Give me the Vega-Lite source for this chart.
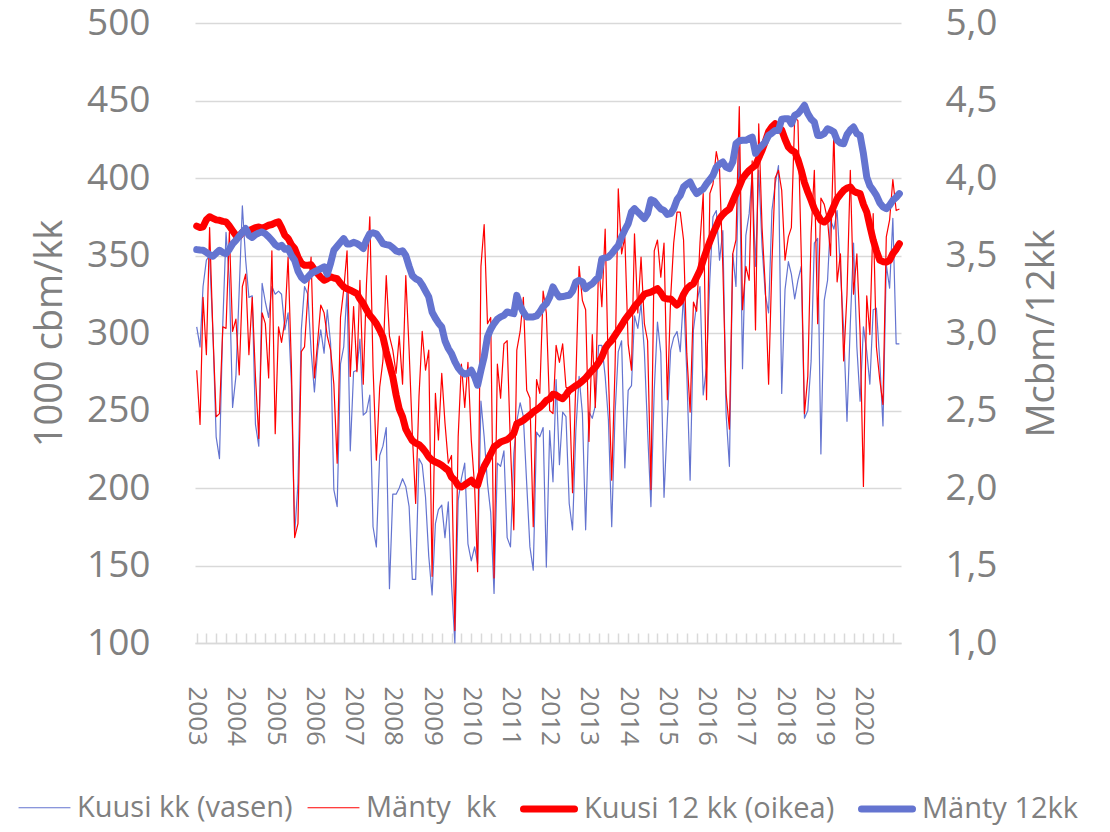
{
  "$schema": "https://vega.github.io/schema/vega-lite/v6.json",
  "width": 706,
  "height": 620,
  "autosize": {"type": "none"},
  "padding": {"left": 195, "top": 23, "right": 209, "bottom": 189},
  "background": "white",
  "config": {"view": {"stroke": null}, "font": "Open Sans"},
  "data": {"values": [
    {"d":"2003-01","K":304,"M":276,"K12":3.69,"M12":3.538},
    {"d":"2003-02","K":291,"M":241,"K12":3.68,"M12":3.535},
    {"d":"2003-03","K":330,"M":323,"K12":3.685,"M12":3.534},
    {"d":"2003-04","K":347,"M":286,"K12":3.73,"M12":3.52},
    {"d":"2003-05","K":350,"M":368,"K12":3.75,"M12":3.505},
    {"d":"2003-06","K":300,"M":300,"K12":3.74,"M12":3.495},
    {"d":"2003-07","K":233,"M":246,"K12":3.73,"M12":3.515},
    {"d":"2003-08","K":219,"M":248,"K12":3.727,"M12":3.534},
    {"d":"2003-09","K":306,"M":304,"K12":3.72,"M12":3.52},
    {"d":"2003-10","K":365,"M":303,"K12":3.717,"M12":3.512},
    {"d":"2003-11","K":334,"M":365,"K12":3.69,"M12":3.54},
    {"d":"2003-12","K":252,"M":301,"K12":3.66,"M12":3.575},
    {"d":"2004-01","K":272,"M":309,"K12":3.63,"M12":3.598},
    {"d":"2004-02","K":328,"M":273,"K12":3.624,"M12":3.625},
    {"d":"2004-03","K":382,"M":330,"K12":3.65,"M12":3.65},
    {"d":"2004-04","K":347,"M":338,"K12":3.663,"M12":3.674},
    {"d":"2004-05","K":323,"M":286,"K12":3.66,"M12":3.63},
    {"d":"2004-06","K":324,"M":323,"K12":3.67,"M12":3.616},
    {"d":"2004-07","K":241,"M":272,"K12":3.68,"M12":3.635},
    {"d":"2004-08","K":227,"M":232,"K12":3.684,"M12":3.645},
    {"d":"2004-09","K":332,"M":313,"K12":3.675,"M12":3.652},
    {"d":"2004-10","K":320,"M":306,"K12":3.685,"M12":3.64},
    {"d":"2004-11","K":310,"M":271,"K12":3.695,"M12":3.62},
    {"d":"2004-12","K":330,"M":353,"K12":3.70,"M12":3.598},
    {"d":"2005-01","K":325,"M":235,"K12":3.71,"M12":3.57},
    {"d":"2005-02","K":327,"M":304,"K12":3.717,"M12":3.555},
    {"d":"2005-03","K":325,"M":294,"K12":3.68,"M12":3.566},
    {"d":"2005-04","K":302,"M":308,"K12":3.63,"M12":3.54},
    {"d":"2005-05","K":313,"M":349,"K12":3.61,"M12":3.545},
    {"d":"2005-06","K":267,"M":278,"K12":3.57,"M12":3.50},
    {"d":"2005-07","K":170,"M":168,"K12":3.545,"M12":3.469},
    {"d":"2005-08","K":203,"M":177,"K12":3.49,"M12":3.40},
    {"d":"2005-09","K":302,"M":288,"K12":3.45,"M12":3.36},
    {"d":"2005-10","K":330,"M":291,"K12":3.437,"M12":3.34},
    {"d":"2005-11","K":325,"M":325,"K12":3.437,"M12":3.36},
    {"d":"2005-12","K":289,"M":349,"K12":3.44,"M12":3.383},
    {"d":"2006-01","K":262,"M":271,"K12":3.41,"M12":3.395},
    {"d":"2006-02","K":289,"M":295,"K12":3.383,"M12":3.405},
    {"d":"2006-03","K":302,"M":318,"K12":3.36,"M12":3.415},
    {"d":"2006-04","K":287,"M":313,"K12":3.34,"M12":3.426},
    {"d":"2006-05","K":315,"M":298,"K12":3.35,"M12":3.38},
    {"d":"2006-06","K":293,"M":289,"K12":3.362,"M12":3.45},
    {"d":"2006-07","K":199,"M":267,"K12":3.355,"M12":3.534},
    {"d":"2006-08","K":188,"M":216,"K12":3.35,"M12":3.56},
    {"d":"2006-09","K":280,"M":310,"K12":3.32,"M12":3.585},
    {"d":"2006-10","K":291,"M":328,"K12":3.297,"M12":3.609},
    {"d":"2006-11","K":328,"M":353,"K12":3.285,"M12":3.575},
    {"d":"2006-12","K":224,"M":272,"K12":3.276,"M12":3.575},
    {"d":"2007-01","K":275,"M":317,"K12":3.265,"M12":3.585},
    {"d":"2007-02","K":276,"M":275,"K12":3.254,"M12":3.577},
    {"d":"2007-03","K":296,"M":334,"K12":3.22,"M12":3.565},
    {"d":"2007-04","K":247,"M":267,"K12":3.19,"M12":3.545},
    {"d":"2007-05","K":249,"M":332,"K12":3.15,"M12":3.60},
    {"d":"2007-06","K":260,"M":375,"K12":3.114,"M12":3.641},
    {"d":"2007-07","K":175,"M":278,"K12":3.09,"M12":3.646},
    {"d":"2007-08","K":162,"M":218,"K12":3.061,"M12":3.64},
    {"d":"2007-09","K":221,"M":265,"K12":3.02,"M12":3.61},
    {"d":"2007-10","K":227,"M":282,"K12":2.975,"M12":3.577},
    {"d":"2007-11","K":239,"M":337,"K12":2.88,"M12":3.57},
    {"d":"2007-12","K":135,"M":298,"K12":2.80,"M12":3.566},
    {"d":"2008-01","K":196,"M":289,"K12":2.717,"M12":3.55},
    {"d":"2008-02","K":196,"M":274,"K12":2.60,"M12":3.53},
    {"d":"2008-03","K":200,"M":298,"K12":2.51,"M12":3.523},
    {"d":"2008-04","K":206,"M":267,"K12":2.459,"M12":3.53},
    {"d":"2008-05","K":201,"M":337,"K12":2.38,"M12":3.50},
    {"d":"2008-06","K":188,"M":289,"K12":2.34,"M12":3.43},
    {"d":"2008-07","K":141,"M":235,"K12":2.305,"M12":3.37},
    {"d":"2008-08","K":141,"M":190,"K12":2.29,"M12":3.35},
    {"d":"2008-09","K":219,"M":259,"K12":2.28,"M12":3.34},
    {"d":"2008-10","K":215,"M":301,"K12":2.26,"M12":3.31},
    {"d":"2008-11","K":194,"M":276,"K12":2.233,"M12":3.27},
    {"d":"2008-12","K":156,"M":289,"K12":2.20,"M12":3.233},
    {"d":"2009-01","K":131,"M":143,"K12":2.18,"M12":3.135},
    {"d":"2009-02","K":177,"M":261,"K12":2.168,"M12":3.095},
    {"d":"2009-03","K":186,"M":231,"K12":2.16,"M12":3.065},
    {"d":"2009-04","K":189,"M":274,"K12":2.147,"M12":3.039},
    {"d":"2009-05","K":168,"M":242,"K12":2.13,"M12":2.95},
    {"d":"2009-06","K":191,"M":216,"K12":2.114,"M12":2.90},
    {"d":"2009-07","K":138,"M":221,"K12":2.07,"M12":2.867},
    {"d":"2009-08","K":100,"M":108,"K12":2.05,"M12":2.815},
    {"d":"2009-09","K":192,"M":233,"K12":2.015,"M12":2.775},
    {"d":"2009-10","K":206,"M":280,"K12":2.007,"M12":2.749},
    {"d":"2009-11","K":216,"M":252,"K12":2.02,"M12":2.735},
    {"d":"2009-12","K":164,"M":281,"K12":2.035,"M12":2.74},
    {"d":"2010-01","K":153,"M":231,"K12":2.05,"M12":2.76},
    {"d":"2010-02","K":162,"M":201,"K12":2.025,"M12":2.717},
    {"d":"2010-03","K":151,"M":146,"K12":2.018,"M12":2.663},
    {"d":"2010-04","K":256,"M":343,"K12":2.09,"M12":2.76},
    {"d":"2010-05","K":233,"M":370,"K12":2.14,"M12":2.846},
    {"d":"2010-06","K":203,"M":306,"K12":2.179,"M12":2.975},
    {"d":"2010-07","K":184,"M":310,"K12":2.22,"M12":3.025},
    {"d":"2010-08","K":132,"M":142,"K12":2.265,"M12":3.061},
    {"d":"2010-09","K":216,"M":280,"K12":2.28,"M12":3.09},
    {"d":"2010-10","K":214,"M":258,"K12":2.297,"M12":3.104},
    {"d":"2010-11","K":224,"M":293,"K12":2.305,"M12":3.114},
    {"d":"2010-12","K":168,"M":295,"K12":2.312,"M12":3.136},
    {"d":"2011-01","K":162,"M":227,"K12":2.33,"M12":3.13},
    {"d":"2011-02","K":222,"M":173,"K12":2.351,"M12":3.125},
    {"d":"2011-03","K":243,"M":289,"K12":2.415,"M12":3.243},
    {"d":"2011-04","K":255,"M":301,"K12":2.425,"M12":3.175},
    {"d":"2011-05","K":246,"M":323,"K12":2.437,"M12":3.135},
    {"d":"2011-06","K":203,"M":263,"K12":2.455,"M12":3.104},
    {"d":"2011-07","K":162,"M":258,"K12":2.47,"M12":3.104},
    {"d":"2011-08","K":147,"M":175,"K12":2.491,"M12":3.104},
    {"d":"2011-09","K":236,"M":270,"K12":2.505,"M12":3.11},
    {"d":"2011-10","K":233,"M":261,"K12":2.52,"M12":3.135},
    {"d":"2011-11","K":239,"M":327,"K12":2.54,"M12":3.17},
    {"d":"2011-12","K":149,"M":313,"K12":2.565,"M12":3.19},
    {"d":"2012-01","K":237,"M":250,"K12":2.575,"M12":3.232},
    {"d":"2012-02","K":204,"M":248,"K12":2.605,"M12":3.297},
    {"d":"2012-03","K":270,"M":292,"K12":2.60,"M12":3.26},
    {"d":"2012-04","K":215,"M":281,"K12":2.585,"M12":3.232},
    {"d":"2012-05","K":249,"M":293,"K12":2.576,"M12":3.235},
    {"d":"2012-06","K":246,"M":265,"K12":2.60,"M12":3.24},
    {"d":"2012-07","K":190,"M":264,"K12":2.63,"M12":3.243},
    {"d":"2012-08","K":173,"M":197,"K12":2.645,"M12":3.27},
    {"d":"2012-09","K":237,"M":270,"K12":2.66,"M12":3.329},
    {"d":"2012-10","K":272,"M":343,"K12":2.673,"M12":3.34},
    {"d":"2012-11","K":248,"M":321,"K12":2.69,"M12":3.33},
    {"d":"2012-12","K":173,"M":315,"K12":2.71,"M12":3.286},
    {"d":"2013-01","K":249,"M":230,"K12":2.735,"M12":3.305},
    {"d":"2013-02","K":245,"M":299,"K12":2.76,"M12":3.318},
    {"d":"2013-03","K":253,"M":252,"K12":2.78,"M12":3.34},
    {"d":"2013-04","K":292,"M":347,"K12":2.81,"M12":3.361},
    {"d":"2013-05","K":292,"M":317,"K12":2.845,"M12":3.479},
    {"d":"2013-06","K":272,"M":367,"K12":2.90,"M12":3.485},
    {"d":"2013-07","K":244,"M":274,"K12":2.93,"M12":3.49},
    {"d":"2013-08","K":175,"M":205,"K12":2.953,"M12":3.512},
    {"d":"2013-09","K":248,"M":278,"K12":2.985,"M12":3.54},
    {"d":"2013-10","K":288,"M":393,"K12":3.017,"M12":3.565},
    {"d":"2013-11","K":295,"M":351,"K12":3.05,"M12":3.62},
    {"d":"2013-12","K":213,"M":362,"K12":3.085,"M12":3.665},
    {"d":"2014-01","K":263,"M":293,"K12":3.115,"M12":3.705},
    {"d":"2014-02","K":266,"M":276,"K12":3.14,"M12":3.781},
    {"d":"2014-03","K":311,"M":364,"K12":3.17,"M12":3.802},
    {"d":"2014-04","K":303,"M":313,"K12":3.195,"M12":3.78},
    {"d":"2014-05","K":319,"M":349,"K12":3.22,"M12":3.76},
    {"d":"2014-06","K":288,"M":306,"K12":3.25,"M12":3.738},
    {"d":"2014-07","K":237,"M":295,"K12":3.258,"M12":3.77},
    {"d":"2014-08","K":188,"M":199,"K12":3.264,"M12":3.86},
    {"d":"2014-09","K":263,"M":353,"K12":3.275,"M12":3.85},
    {"d":"2014-10","K":307,"M":360,"K12":3.286,"M12":3.824},
    {"d":"2014-11","K":287,"M":336,"K12":3.26,"M12":3.80},
    {"d":"2014-12","K":194,"M":358,"K12":3.225,"M12":3.791},
    {"d":"2015-01","K":244,"M":257,"K12":3.22,"M12":3.765},
    {"d":"2015-02","K":289,"M":323,"K12":3.22,"M12":3.77},
    {"d":"2015-03","K":297,"M":358,"K12":3.20,"M12":3.802},
    {"d":"2015-04","K":301,"M":378,"K12":3.18,"M12":3.86},
    {"d":"2015-05","K":288,"M":378,"K12":3.20,"M12":3.888},
    {"d":"2015-06","K":325,"M":360,"K12":3.25,"M12":3.942},
    {"d":"2015-07","K":274,"M":287,"K12":3.285,"M12":3.96},
    {"d":"2015-08","K":205,"M":249,"K12":3.305,"M12":3.974},
    {"d":"2015-09","K":302,"M":320,"K12":3.318,"M12":3.931},
    {"d":"2015-10","K":319,"M":314,"K12":3.36,"M12":3.899},
    {"d":"2015-11","K":330,"M":358,"K12":3.404,"M12":3.915},
    {"d":"2015-12","K":260,"M":390,"K12":3.47,"M12":3.93},
    {"d":"2016-01","K":278,"M":257,"K12":3.533,"M12":3.963},
    {"d":"2016-02","K":335,"M":390,"K12":3.59,"M12":3.99},
    {"d":"2016-03","K":375,"M":396,"K12":3.641,"M12":4.017},
    {"d":"2016-04","K":379,"M":417,"K12":3.69,"M12":4.07},
    {"d":"2016-05","K":347,"M":406,"K12":3.738,"M12":4.09},
    {"d":"2016-06","K":366,"M":342,"K12":3.765,"M12":4.103},
    {"d":"2016-07","K":248,"M":261,"K12":3.785,"M12":4.07},
    {"d":"2016-08","K":214,"M":238,"K12":3.80,"M12":4.06},
    {"d":"2016-09","K":351,"M":351,"K12":3.85,"M12":4.103},
    {"d":"2016-10","K":330,"M":360,"K12":3.899,"M12":4.221},
    {"d":"2016-11","K":420,"M":446,"K12":3.945,"M12":4.24},
    {"d":"2016-12","K":277,"M":315,"K12":3.996,"M12":4.243},
    {"d":"2017-01","K":363,"M":343,"K12":4.025,"M12":4.243},
    {"d":"2017-02","K":377,"M":334,"K12":4.049,"M12":4.255},
    {"d":"2017-03","K":403,"M":411,"K12":4.065,"M12":4.264},
    {"d":"2017-04","K":343,"M":302,"K12":4.082,"M12":4.16},
    {"d":"2017-05","K":405,"M":435,"K12":4.13,"M12":4.189},
    {"d":"2017-06","K":356,"M":368,"K12":4.178,"M12":4.21},
    {"d":"2017-07","K":325,"M":330,"K12":4.235,"M12":4.232},
    {"d":"2017-08","K":313,"M":267,"K12":4.30,"M12":4.275},
    {"d":"2017-09","K":379,"M":345,"K12":4.33,"M12":4.29},
    {"d":"2017-10","K":396,"M":400,"K12":4.35,"M12":4.307},
    {"d":"2017-11","K":408,"M":405,"K12":4.33,"M12":4.307},
    {"d":"2017-12","K":261,"M":392,"K12":4.31,"M12":4.38},
    {"d":"2018-01","K":328,"M":347,"K12":4.25,"M12":4.383},
    {"d":"2018-02","K":346,"M":362,"K12":4.20,"M12":4.383},
    {"d":"2018-03","K":338,"M":368,"K12":4.18,"M12":4.35},
    {"d":"2018-04","K":322,"M":439,"K12":4.168,"M12":4.404},
    {"d":"2018-05","K":334,"M":437,"K12":4.12,"M12":4.415},
    {"d":"2018-06","K":343,"M":351,"K12":4.05,"M12":4.44},
    {"d":"2018-07","K":245,"M":248,"K12":3.97,"M12":4.469},
    {"d":"2018-08","K":250,"M":272,"K12":3.91,"M12":4.415},
    {"d":"2018-09","K":282,"M":364,"K12":3.856,"M12":4.38},
    {"d":"2018-10","K":358,"M":405,"K12":3.80,"M12":4.361},
    {"d":"2018-11","K":361,"M":306,"K12":3.76,"M12":4.275},
    {"d":"2018-12","K":222,"M":387,"K12":3.727,"M12":4.275},
    {"d":"2019-01","K":321,"M":383,"K12":3.716,"M12":4.286},
    {"d":"2019-02","K":334,"M":373,"K12":3.735,"M12":4.318},
    {"d":"2019-03","K":373,"M":350,"K12":3.77,"M12":4.31},
    {"d":"2019-04","K":367,"M":431,"K12":3.82,"M12":4.297},
    {"d":"2019-05","K":379,"M":333,"K12":3.867,"M12":4.243},
    {"d":"2019-06","K":340,"M":351,"K12":3.895,"M12":4.225},
    {"d":"2019-07","K":302,"M":282,"K12":3.92,"M12":4.221},
    {"d":"2019-08","K":243,"M":325,"K12":3.935,"M12":4.28},
    {"d":"2019-09","K":306,"M":405,"K12":3.942,"M12":4.31},
    {"d":"2019-10","K":358,"M":325,"K12":3.915,"M12":4.329},
    {"d":"2019-11","K":291,"M":351,"K12":3.905,"M12":4.286},
    {"d":"2019-12","K":256,"M":300,"K12":3.899,"M12":4.275},
    {"d":"2020-01","K":304,"M":201,"K12":3.83,"M12":4.157},
    {"d":"2020-02","K":288,"M":324,"K12":3.78,"M12":4.006},
    {"d":"2020-03","K":267,"M":299,"K12":3.69,"M12":3.95},
    {"d":"2020-04","K":315,"M":377,"K12":3.60,"M12":3.92},
    {"d":"2020-05","K":316,"M":291,"K12":3.53,"M12":3.888},
    {"d":"2020-06","K":282,"M":270,"K12":3.47,"M12":3.84},
    {"d":"2020-07","K":240,"M":254,"K12":3.46,"M12":3.813},
    {"d":"2020-08","K":344,"M":362,"K12":3.458,"M12":3.802},
    {"d":"2020-09","K":329,"M":373,"K12":3.469,"M12":3.824},
    {"d":"2020-10","K":374,"M":399,"K12":3.512,"M12":3.856},
    {"d":"2020-11","K":293,"M":379,"K12":3.54,"M12":3.875},
    {"d":"2020-12","K":293,"M":380,"K12":3.576,"M12":3.899}
  ]},
  "encoding": {
    "x": {
      "field": "d",
      "type": "temporal",
      "scale": {"type": "utc", "domain": [{"year": 2002, "month": 12, "date": 16, "utc": true}, {"year": 2020, "month": 12, "date": 16, "utc": true}]},
      "axis": {
        "title": null,
        "tickCount": {"interval": "month", "step": 3},
        "labelExpr": "utcmonth(datum.value) === 0 ? utcFormat(datum.value, '%Y') : ''",
        "labelAngle": 90,
        "labelFontSize": 26,
        "labelFont": "Open Sans",
        "labelColor": "#808080",
        "labelOverlap": false,
        "labelFlush": false,
        "labelBound": false,
        "labelPadding": 53,
        "grid": false,
        "domainColor": "#D9D9D9",
        "domainWidth": 1.5,
        "tickColor": "#D9D9D9",
        "tickWidth": 1.5,
        "tickSize": -10
      }
    },
    "color": {
      "field": "s",
      "type": "nominal",
      "scale": {"domain": ["K", "M", "K12", "M12"], "range": ["#6474D0", "#FF0000", "#FF0000", "#6474D0"]},
      "legend": {
        "orient": "none",
        "legendX": -177,
        "legendY": 757,
        "direction": "horizontal",
        "title": null,
        "symbolType": "stroke",
        "symbolSize": 2601,
        "labelFontSize": 29,
        "labelFont": "Open Sans",
        "labelColor": "#808080",
        "labelOffset": 6,
        "columnPadding": 12,
        "labelLimit": 500,
        "labelExpr": "{'K': 'Kuusi kk (vasen)', 'M': 'Mänty\u00a0 kk', 'K12': 'Kuusi 12 kk (oikea)', 'M12': 'Mänty 12kk'}[datum.label]",
        "encode": {"symbols": {"update": {"strokeCap": {"value": "round"}}}}
      }
    },
    "strokeWidth": {
      "field": "s",
      "type": "nominal",
      "scale": {"type": "ordinal", "domain": ["K", "M", "K12", "M12"], "range": [1.2, 1.2, 7, 7]},
      "legend": {
        "orient": "none",
        "legendX": -177,
        "legendY": 757,
        "direction": "horizontal",
        "title": null,
        "symbolType": "stroke",
        "symbolSize": 2601,
        "labelFontSize": 29,
        "labelFont": "Open Sans",
        "labelColor": "#808080",
        "labelOffset": 6,
        "columnPadding": 12,
        "labelLimit": 500,
        "labelExpr": "{'K': 'Kuusi kk (vasen)', 'M': 'Mänty\u00a0 kk', 'K12': 'Kuusi 12 kk (oikea)', 'M12': 'Mänty 12kk'}[datum.label]",
        "encode": {"symbols": {"update": {"strokeCap": {"value": "round"}}}}
      }
    }
  },
  "layer": [
    {
      "transform": [{"fold": ["K", "M"], "as": ["s", "v"]}],
      "mark": {"type": "line", "strokeJoin": "round"},
      "encoding": {
        "y": {
          "field": "v",
          "type": "quantitative",
          "scale": {"domain": [100, 500], "nice": false, "zero": false},
          "axis": {
            "title": "1000 cbm/kk",
            "values": [100, 150, 200, 250, 300, 350, 400, 450, 500],
            "grid": true,
            "gridColor": "#D9D9D9",
            "gridWidth": 1.5,
            "domain": false,
            "ticks": false,
            "labelFontSize": 37,
            "labelFont": "Open Sans",
            "labelColor": "#808080",
            "labelPadding": 45,
            "titleFontSize": 38,
            "titleFont": "Open Sans",
            "titleColor": "#808080",
            "titleFontWeight": "normal",
            "titlePadding": 17
          }
        }
      }
    },
    {
      "transform": [{"fold": ["K12", "M12"], "as": ["s", "v"]}],
      "mark": {"type": "line", "strokeJoin": "round", "strokeCap": "round"},
      "encoding": {
        "y": {
          "field": "v",
          "type": "quantitative",
          "scale": {"domain": [1, 5], "nice": false, "zero": false},
          "axis": {
            "orient": "right",
            "title": "Mcbm/12kk",
            "values": [1, 1.5, 2, 2.5, 3, 3.5, 4, 4.5, 5],
            "labelExpr": "replace(format(datum.value, '.1f'), '.', ',')",
            "grid": false,
            "domain": false,
            "ticks": false,
            "labelFontSize": 37,
            "labelFont": "Open Sans",
            "labelColor": "#808080",
            "labelPadding": 44,
            "titleFontSize": 38,
            "titleFont": "Open Sans",
            "titleColor": "#808080",
            "titleFontWeight": "normal",
            "titleAngle": 270,
            "titleBaseline": "top",
            "titlePadding": 27
          }
        }
      }
    }
  ],
  "resolve": {"scale": {"y": "independent"}, "axis": {"y": "independent"}}
}
